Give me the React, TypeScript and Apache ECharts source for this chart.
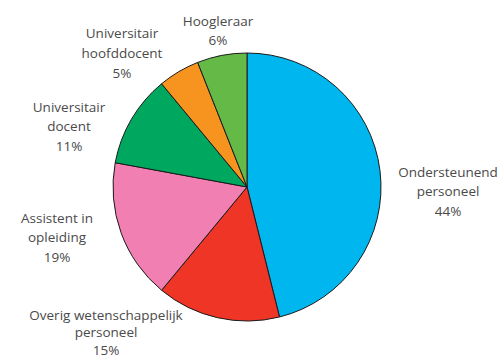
import React, { useEffect, useRef } from "react";
import * as echarts from "echarts";

const categories: string[] = [
  "Ondersteunend\npersoneel",
  "Overig wetenschappelijk\npersoneel",
  "Assistent in\nopleiding",
  "Universitair\ndocent",
  "Universitair\nhoofddocent",
  "Hoogleraar",
];
// slice shares as drawn in the picture
const values: number[] = [46.1, 14.9, 16.9, 11.1, 5.0, 6.0];
// percentages as printed in the labels
const percentLabels: string[] = ["44%", "15%", "19%", "11%", "5%", "6%"];
const colors: string[] = ["#00B6EE", "#EE3526", "#F27FB2", "#00A85F", "#F7941F", "#65BA47"];

// label block centres and line heights (layout, not data)
const labelCenters: [number, number][] = [
  [448, 191],
  [106, 332],
  [57, 237],
  [69, 126],
  [122, 53],
  [218, 30],
];
const labelLineHeights: number[] = [19.5, 17.5, 19.5, 19.5, 20, 19];

export default function App() {
  const ref = useRef<HTMLDivElement>(null);
  useEffect(() => {
    if (!ref.current) return;
    const chart = echarts.init(ref.current, undefined, { renderer: "svg" });
    chart.setOption({
      animation: false,
      backgroundColor: "#ffffff",
      series: [
        {
          type: "pie",
          center: [247, 187],
          radius: 134,
          startAngle: 90,
          clockwise: true,
          data: categories.map((c, i) => ({
            name: c,
            value: values[i],
            itemStyle: { color: colors[i] },
          })),
          itemStyle: { borderColor: "#1a1a1a", borderWidth: 1 },
          label: { show: false },
          labelLine: { show: false },
          emphasis: { disabled: true },
        },
      ],
      graphic: categories.map((c, i) => ({
        type: "text",
        x: labelCenters[i][0],
        y: labelCenters[i][1],
        silent: true,
        style: {
          text: `${c}\n${percentLabels[i]}`,
          fill: "#4a4a4a",
          fontFamily: "Open Sans",
          fontSize: 13.5,
          lineHeight: labelLineHeights[i],
          align: "center",
          verticalAlign: "middle",
        },
      })),
    });
    return () => chart.dispose();
  }, []);
  return (
    <div
      ref={ref}
      style={{ position: "fixed", left: 0, top: 0, width: 499, height: 357 }}
    />
  );
}
